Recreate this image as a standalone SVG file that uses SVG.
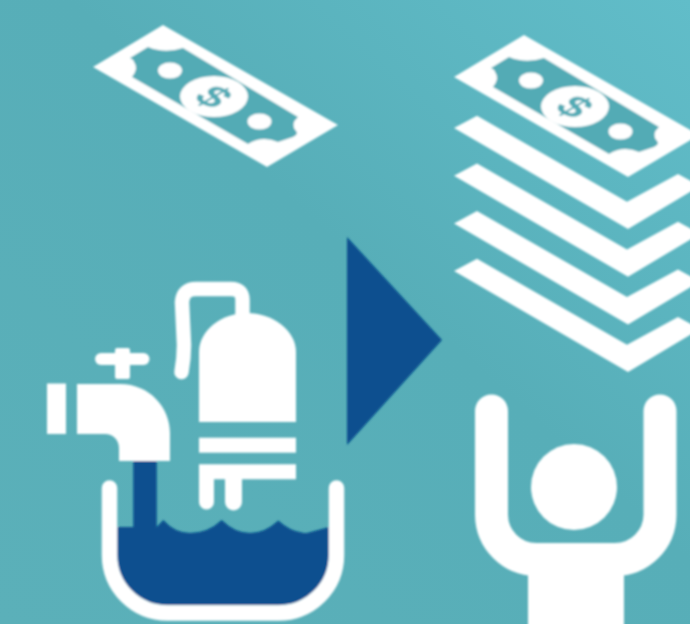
<svg xmlns="http://www.w3.org/2000/svg" xmlns:xlink="http://www.w3.org/1999/xlink" width="690" height="624" viewBox="0 0 690 624">
<style>
.w{fill:#fff}.n{fill:none;stroke:#fff;stroke-linecap:round}.t{fill:#52abb5}.b{fill:#07508f}
.d{font-family:"Liberation Sans",Arial,sans-serif;font-weight:700;font-size:42px;text-anchor:middle;fill:#52abb5}
</style>
<defs>
<linearGradient id="bg" x1="0" y1="1" x2="1" y2="0"><stop offset="0" stop-color="#5bb0b9"/><stop offset=".55" stop-color="#57aeb8"/><stop offset="1" stop-color="#61bdc9"/></linearGradient>
<filter id="s" x="-5%" y="-5%" width="110%" height="110%"><feGaussianBlur stdDeviation="0.9"/></filter>
<g id="bill">
<path class="w" d="M163 25L338 125L267 167L93 67Z"/>
<path class="t" d="M148 47Q165 54 183 48L298 117Q290 124 296 131Q299 134 293 137L278 142Q262 135 248 144L132 77Q139 68 134 62Q134 60 130 58Z"/>
<ellipse class="w" cx="170" cy="70.500" rx="12" ry="8"/>
<ellipse class="w" cx="259.500" cy="121.500" rx="12" ry="8"/>
<ellipse class="w" cx="214" cy="96.500" rx="34" ry="20.500"/>
<text class="d" transform="matrix(.87 .5 -.86 .5 214 96.500)" y="14.500">$</text>
</g>
<path id="strip" class="w" d="M454 128L477 115.700L627 201.700L678 174L700 186L628 229Z"/>
</defs>
<rect width="690" height="624" fill="url(#bg)"/>
<g filter="url(#s)">
<g id="single-bill"><use href="#bill"/></g>
<g id="bill-stack">
<use href="#bill" x="361" y="10"/>
<use href="#strip"/><use href="#strip" y="47.700"/><use href="#strip" y="95.400"/><use href="#strip" y="143"/>
</g>
<g id="arrow"><path class="b" d="M347 237L442 340L347 445Z"/></g>
<g id="water-tank">
<path class="n" stroke-width="14.500" d="M242.500 318V300Q242.500 289 231 289H196Q183 289 182 302L184 345Q184 358 181.500 372"/>
<path class="w" d="M199 422V352C199 330 222 313 247 313C272 313 296 330 296 352V422Z"/>
<rect class="w" x="199" y="437.700" width="97" height="15"/>
<path class="w" d="M199 464.300H296V479.300H242V502A8.500 8.500 0 0 1 225 502V479.300H214V502A7.500 7.500 0 0 1 199 502Z"/>
</g>
<g id="faucet">
<rect class="w" x="47" y="383.500" width="19" height="50.500"/>
<path class="w" d="M77 384H120C150 384 170 408 170 433V461H119V448C119 440 113 434 105 434H77Z"/>
<rect class="w" x="95" y="353" width="54.500" height="12" rx="6"/>
<rect class="w" x="115" y="348" width="15" height="31" rx="2"/>
</g>
<g id="basin">
<path class="b" d="M133.300 461H156.700V527L163.300 520Q175 533 190 533Q208 533 221.700 520Q235 533 250 533Q265 533 278.300 520.500Q292 533 307 533L329 527V555A50 50 0 0 1 279 605H167A50 50 0 0 1 117 555V527H133.300Z"/>
<path class="n" stroke-width="15.500" d="M109.500 488V555A58 58 0 0 0 167.500 613H278.500A58 58 0 0 0 336.500 555V488"/>
</g>
<g id="person">
<circle class="w" cx="574" cy="487" r="43"/>
<path class="n" stroke-width="33" d="M491.500 411V515A45 45 0 0 0 536 559.500H615A45 45 0 0 0 660 515V411"/>
<rect class="w" x="528" y="560" width="96" height="66"/>
</g>
</g>
</svg>
